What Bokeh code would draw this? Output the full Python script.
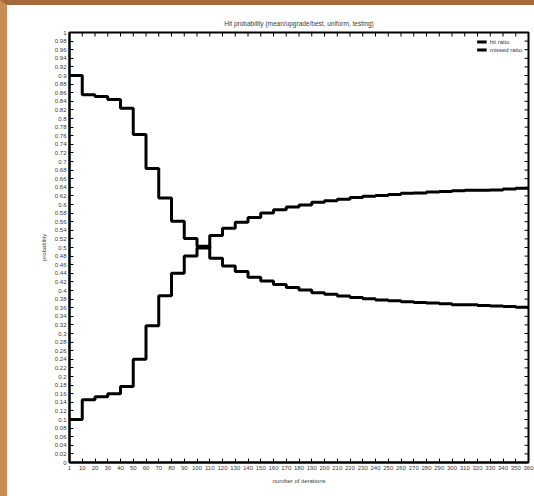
from bokeh.plotting import figure
from bokeh.models import LinearAxis, FixedTicker, Range1d, Legend, LegendItem
from bokeh.embed import file_html
from bokeh.resources import INLINE

# ---- chart data ----
title_text = "Hit probability (mean/upgrade/best, uniform, testing)"
x_label = "number of iterations"
y_label = "probability"
series_names = ["hit ratio", "missed ratio"]

# tick positions (interval edges) and their labels
x_tick_pos = [0, 1, 2, 3, 4, 5, 6, 7, 8, 9, 10, 11, 12, 13, 14, 15, 16, 17, 18,
              19, 20, 21, 22, 23, 24, 25, 26, 27, 28, 29, 30, 31, 32, 33, 34, 35, 36]
x_tick_labels = ["1", "10", "20", "30", "40", "50", "60", "70", "80", "90", "100",
                 "110", "120", "130", "140", "150", "160", "170", "180", "190", "200",
                 "210", "220", "230", "240", "250", "260", "270", "280", "290", "300",
                 "310", "320", "330", "340", "350", "360"]
y_tick_labels = ["0", "0.02", "0.04", "0.06", "0.08", "0.1", "0.12", "0.14", "0.16", "0.18",
                 "0.2", "0.22", "0.24", "0.26", "0.28", "0.3", "0.32", "0.34", "0.36", "0.38",
                 "0.4", "0.42", "0.44", "0.46", "0.48", "0.5", "0.52", "0.54", "0.56", "0.58",
                 "0.6", "0.62", "0.64", "0.66", "0.68", "0.7", "0.72", "0.74", "0.76", "0.78",
                 "0.8", "0.82", "0.84", "0.86", "0.88", "0.9", "0.92", "0.94", "0.96", "0.98", "1"]

# one value per interval
series_a = [0.900, 0.855, 0.851, 0.844, 0.824, 0.763, 0.684, 0.615, 0.561, 0.521,
            0.503, 0.475, 0.457, 0.444, 0.431, 0.422, 0.414, 0.407, 0.401, 0.395,
            0.391, 0.387, 0.384, 0.381, 0.378, 0.376, 0.374, 0.372, 0.371, 0.369,
            0.367, 0.367, 0.365, 0.364, 0.363, 0.361]
series_b = [0.100, 0.146, 0.153, 0.160, 0.177, 0.240, 0.318, 0.388, 0.440, 0.480,
            0.499, 0.528, 0.545, 0.559, 0.570, 0.580, 0.588, 0.594, 0.599, 0.605,
            0.609, 0.612, 0.616, 0.619, 0.621, 0.623, 0.626, 0.627, 0.629, 0.630,
            0.632, 0.633, 0.633, 0.634, 0.636, 0.638]

# ---- styling ----
FONT = "Liberation Sans"
TXT = "#3a3a3a"
FS = "6px"
W, H = 527, 491
BL, BR, BT, BB = 62, 6, 27, 34
TICK_PX = 4

y_tick_pos = [float(s) for s in y_tick_labels]
x_max = len(series_a)

p = figure(width=W, height=H, output_backend="svg", toolbar_location=None,
           x_range=Range1d(0, x_max), y_range=Range1d(0, 1),
           x_axis_location=None, y_axis_location=None,
           min_border_left=BL, min_border_right=BR, min_border_top=BT, min_border_bottom=BB)
p.grid.visible = False
p.outline_line_color = "black"
p.outline_line_width = 2
p.background_fill_color = "white"
p.border_fill_color = "white"

p.title.text = title_text
p.title.align = "center"
p.title.text_font = FONT
p.title.text_font_size = "6.5px"
p.title.text_font_style = "normal"
p.title.text_color = TXT
p.title.standoff = 12


def make_axis(side, ticks, labels):
    ax = LinearAxis(ticker=FixedTicker(ticks=ticks))
    ax.axis_line_width = 2
    ax.axis_line_color = "black"
    ax.major_tick_in = TICK_PX
    ax.major_tick_out = 0
    ax.major_tick_line_width = 1
    ax.major_tick_line_color = "black"
    ax.minor_tick_line_color = None
    ax.major_label_text_font = FONT
    ax.major_label_text_color = TXT
    ax.major_label_text_font_size = FS
    ax.major_label_standoff = 3
    ax.major_label_overrides = {t: l for t, l in zip(ticks, labels)}
    p.add_layout(ax, side)
    return ax


xb = make_axis("below", x_tick_pos, x_tick_labels)
yl = make_axis("left", y_tick_pos, y_tick_labels)

xb.axis_label = x_label
yl.axis_label = y_label
for ax in (xb, yl):
    ax.axis_label_text_font = FONT
    ax.axis_label_text_font_size = FS
    ax.axis_label_text_font_style = "normal"
    ax.axis_label_text_color = TXT
    ax.axis_label_standoff = 5

# mirrored inward ticks on the top and right edges of the frame
frame_w = W - BL - BR
frame_h = H - BT - BB
tick_dy = TICK_PX / frame_h
tick_dx = TICK_PX * x_max / frame_w
p.segment(x0=x_tick_pos, y0=1, x1=x_tick_pos, y1=1 - tick_dy, line_color="black", line_width=1)
p.segment(x0=x_max, y0=y_tick_pos, x1=x_max - tick_dx, y1=y_tick_pos, line_color="black", line_width=1)

edges = x_tick_pos
r1 = p.step(x=edges, y=series_a + [series_a[-1]], mode="after", line_color="black", line_width=3)
r2 = p.step(x=edges, y=series_b + [series_b[-1]], mode="after", line_color="black", line_width=3)

legend = Legend(items=[LegendItem(label=series_names[0], renderers=[r1]),
                       LegendItem(label=series_names[1], renderers=[r2])],
                location="top_right", background_fill_alpha=0, border_line_alpha=0,
                label_text_font=FONT, label_text_font_size=FS, label_text_color=TXT,
                glyph_width=10, glyph_height=7, label_height=7, spacing=1, padding=2,
                margin=4, label_standoff=3)
p.add_layout(legend)

page_style = ("<style>html{background:#ffffff;}"
              "body{margin:0 !important;padding:0 !important;box-sizing:border-box;"
              "overflow:hidden;background:#ffffff;"
              "border-left:7px solid #c98c54;border-top:5px solid #a56a3c;}</style>")
html = file_html(p, INLINE)
html = html.replace("</head>", page_style + "</head>", 1)
open("out.html", "w").write(html)
